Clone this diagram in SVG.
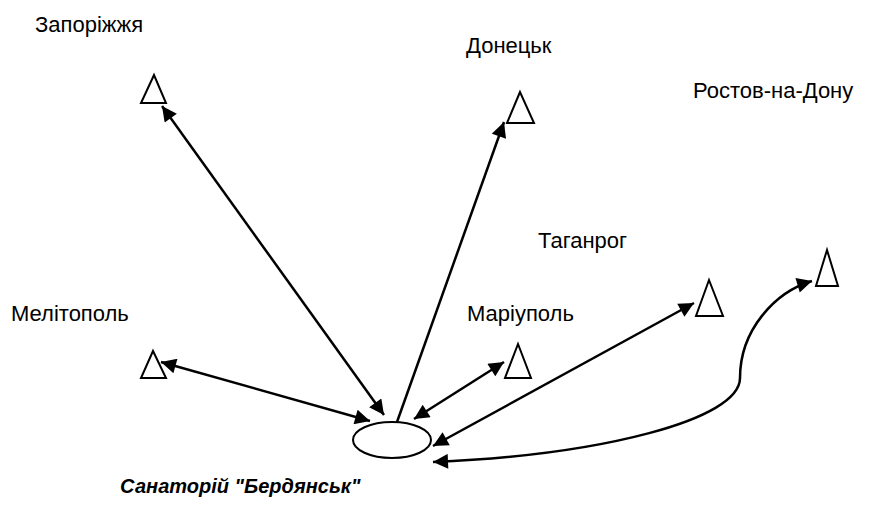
<svg xmlns="http://www.w3.org/2000/svg" width="884" height="507" viewBox="0 0 884 507">
<style>
.t{font-family:"Liberation Sans",Arial,sans-serif;font-size:22px;fill:#000}
.b{font-weight:bold;font-style:italic;font-size:20px}
.tri{fill:#fff;stroke:#000;stroke-width:2}
.c{fill:none;stroke:#000;stroke-width:2.5}
</style>
<defs>
<marker id="ah" viewBox="0 0 10 10" refX="10" refY="5" markerWidth="7" markerHeight="6" markerUnits="strokeWidth" orient="auto-start-reverse">
<path d="M0,0 L10,5 L0,10 z" fill="#000"/>
</marker>
</defs>
<g id="connectors">
<line class="c" x1="162" y1="106" x2="384" y2="415" marker-start="url(#ah)" marker-end="url(#ah)"/>
<line class="c" x1="161" y1="362" x2="370" y2="421" marker-start="url(#ah)" marker-end="url(#ah)"/>
<line class="c" x1="397" y1="422" x2="504" y2="122" marker-end="url(#ah)"/>
<line class="c" x1="414" y1="419" x2="504" y2="362" marker-start="url(#ah)" marker-end="url(#ah)"/>
<line class="c" x1="433" y1="446" x2="694" y2="303" marker-start="url(#ah)" marker-end="url(#ah)"/>
<path class="c" d="M433 462 C600 455 740 420 740 378 C740 330 775 292 812 281" marker-start="url(#ah)" marker-end="url(#ah)"/>
</g>
<g id="berdiansk">
<ellipse cx="392" cy="440" rx="39" ry="18" fill="#fff" stroke="#000" stroke-width="2"/>
<text class="t b" x="120" y="493">Санаторій "Бердянськ"</text>
</g>
<g id="zaporizhzhia">
<polygon class="tri" points="154,75 141,103 166,103"/>
<text class="t" x="35" y="32">Запоріжжя</text>
</g>
<g id="donetsk">
<polygon class="tri" points="520,92 507,123 534,123"/>
<text class="t" x="466" y="53">Донецьк</text>
</g>
<g id="rostov">
<polygon class="tri" points="827,250 816,286 838,286"/>
<text class="t" x="693" y="98">Ростов-на-Дону</text>
</g>
<g id="taganrog">
<polygon class="tri" points="709,280 696,316 723,316"/>
<text class="t" x="538" y="248">Таганрог</text>
</g>
<g id="melitopol">
<polygon class="tri" points="153,351 141,378 166,378"/>
<text class="t" x="11" y="321">Мелітополь</text>
</g>
<g id="mariupol">
<polygon class="tri" points="518,344 505,378 531,378"/>
<text class="t" x="467" y="321">Маріуполь</text>
</g>
</svg>
